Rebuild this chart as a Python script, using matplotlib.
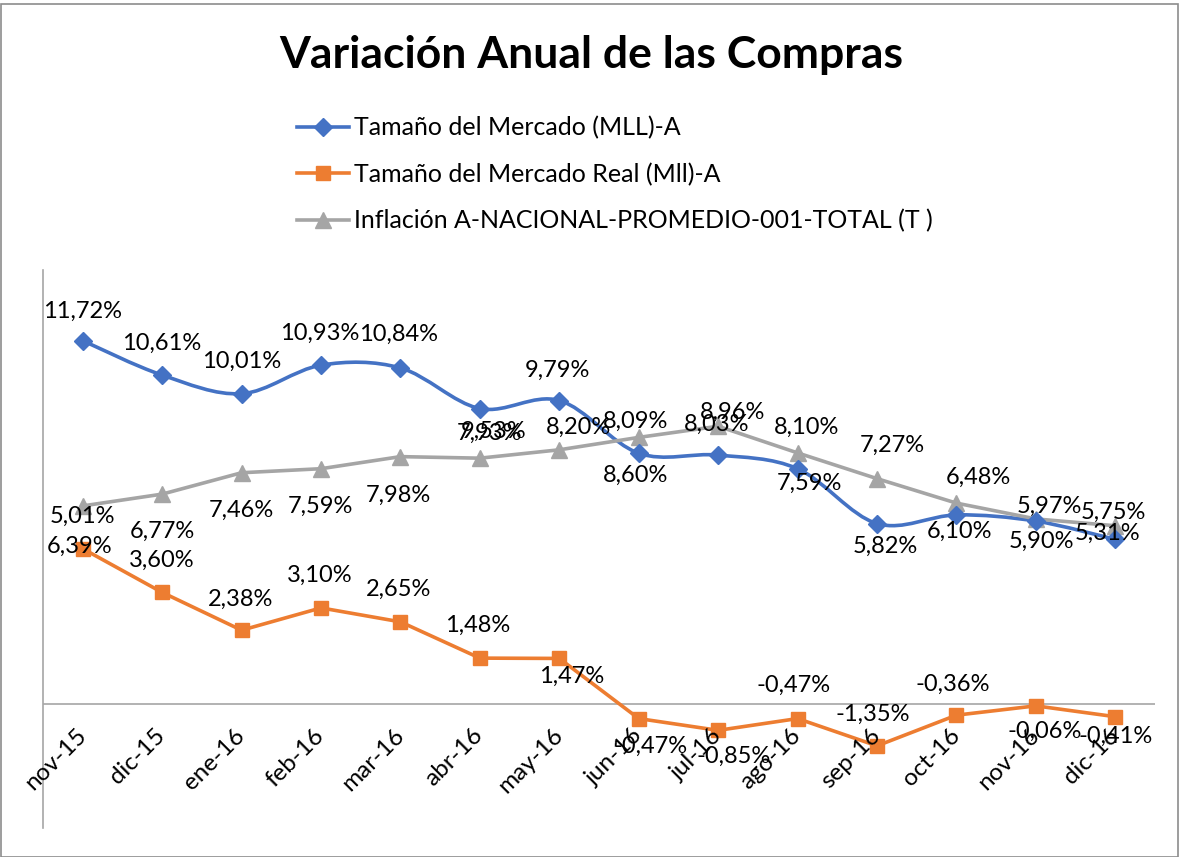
import matplotlib
matplotlib.use('Agg')
import matplotlib.pyplot as plt
from matplotlib.path import Path
from matplotlib.patches import PathPatch, Rectangle
from matplotlib.lines import Line2D
import numpy as np

plt.rcParams['font.family'] = ['Lato', 'DejaVu Sans']

categories = ['nov-15', 'dic-15', 'ene-16', 'feb-16', 'mar-16', 'abr-16', 'may-16',
              'jun-16', 'jul-16', 'ago-16', 'sep-16', 'oct-16', 'nov-16', 'dic-16']
mercado = [11.72, 10.61, 10.01, 10.93, 10.84, 9.53, 9.79, 8.09, 8.03, 7.59, 5.82, 6.10, 5.90, 5.31]
mercado_real = [5.01, 3.60, 2.38, 3.10, 2.65, 1.48, 1.47, -0.47, -0.85, -0.47, -1.35, -0.36, -0.06, -0.41]
inflacion = [6.39, 6.77, 7.46, 7.59, 7.98, 7.93, 8.20, 8.60, 8.96, 8.10, 7.27, 6.48, 5.97, 5.75]
names = ['Tamaño del Mercado (MLL)-A', 'Tamaño del Mercado Real (Mll)-A',
         'Inflación A-NACIONAL-PROMEDIO-001-TOTAL (T )']
title = 'Variación Anual de las Compras'

BLUE, ORANGE, GRAY = '#4472C4', '#ED7D31', '#A5A5A5'
AXIS = '#A6A6A6'

# label offsets in pixels (dx, dy) relative to each point
off_blue = [(0, 29), (-1, 32), (0, 32), (-1, 32), (-2, 34), (14, -23), (-2, 30), (-3, 32),
            (-2, 31), (12, -15), (8, -23), (3, -16), (6, -20), (-8, 6)]
off_gray = [(-3, -40), (0, -37), (0, -38), (-1, -38), (-2, -39), (10, 25), (19, 22), (-3, -38),
            (14, 14), (9, 26), (15, 33), (22, 26), (14, 13), (-2, 13)]
off_orange = [(0, 32), (0, 32), (-1, 31), (-1, 33), (-2, 33), (-2, 33), (12, -18), (12, -28),
              (15, -26), (-4, 33), (-4, 32), (-4, 31), (9, -25), (0, -20)]

W, H = 1180, 857
fig = plt.figure(figsize=(W / 100, H / 100), dpi=100)
ax = fig.add_axes([43 / W, (H - 828) / H, 1112 / W, 558 / H])
x = np.arange(len(categories))
ax.set_xlim(-0.5, len(categories) - 0.5)
ax.set_ylim(-4, 14)

for s in ['top', 'right', 'bottom']:
    ax.spines[s].set_visible(False)
ax.spines['left'].set_color(AXIS)
ax.spines['left'].set_linewidth(1.2)
ax.axhline(0, color=AXIS, lw=1.2, zorder=1)
ax.set_yticks([])
ax.set_xticks([])

# smoothed blue line (Excel-style Catmull-Rom Bezier)
pts = np.column_stack([x, mercado]).astype(float)
verts = [tuple(pts[0])]
codes = [Path.MOVETO]
n = len(pts)
for i in range(n - 1):
    p0 = pts[max(i - 1, 0)]
    p1 = pts[i]
    p2 = pts[i + 1]
    p3 = pts[min(i + 2, n - 1)]
    c1 = p1 + (p2 - p0) / 6.0
    c2 = p2 - (p3 - p1) / 6.0
    verts += [tuple(c1), tuple(c2), tuple(p2)]
    codes += [Path.CURVE4] * 3
ax.add_patch(PathPatch(Path(verts, codes), facecolor='none', edgecolor=BLUE, lw=2.6,
                       capstyle='round', joinstyle='round', zorder=3))
ax.plot(x, mercado, ls='none', marker='D', ms=9, color=BLUE, zorder=4)
ax.plot(x, mercado_real, color=ORANGE, lw=2.6, marker='s', ms=10, zorder=3)
ax.plot(x, inflacion, color=GRAY, lw=2.6, marker='^', ms=11, zorder=3)


def fmt(v):
    return f'{v:.2f}%'.replace('.', ',')


LBL = 17
for vals, offs in [(mercado, off_blue), (inflacion, off_gray), (mercado_real, off_orange)]:
    for i, v in enumerate(vals):
        ax.annotate(fmt(v), (i, v), xytext=offs[i], textcoords='offset pixels',
                    ha='center', va='center', fontsize=LBL, color='black', zorder=5)

# category labels next to the horizontal axis at zero
for i, c in enumerate(categories):
    ax.annotate(c, (i, 0), xytext=(0, -28), textcoords='offset pixels', rotation=45,
                ha='right', va='center', rotation_mode='anchor', fontsize=17.5,
                color='black', annotation_clip=False)

fig.text(591 / W, 1 - 55 / H, title, ha='center', va='center', fontsize=32, fontweight='bold')

handles = [Line2D([], [], color=BLUE, lw=2.6, marker='D', ms=9),
           Line2D([], [], color=ORANGE, lw=2.6, marker='s', ms=10),
           Line2D([], [], color=GRAY, lw=2.6, marker='^', ms=11)]
fig.legend(handles, names, loc='upper left', bbox_to_anchor=(297 / W, 1 - 116 / H),
           frameon=False, fontsize=18, handlelength=2.1, handletextpad=0.2,
           labelspacing=0.93, borderpad=0, borderaxespad=0)

fig.add_artist(Rectangle((1 / W, 0), (W - 3) / W, (H - 4) / H, transform=fig.transFigure,
                         fill=False, edgecolor='#8c8c8c', lw=1.2))

fig.savefig('out.png', dpi=100)
